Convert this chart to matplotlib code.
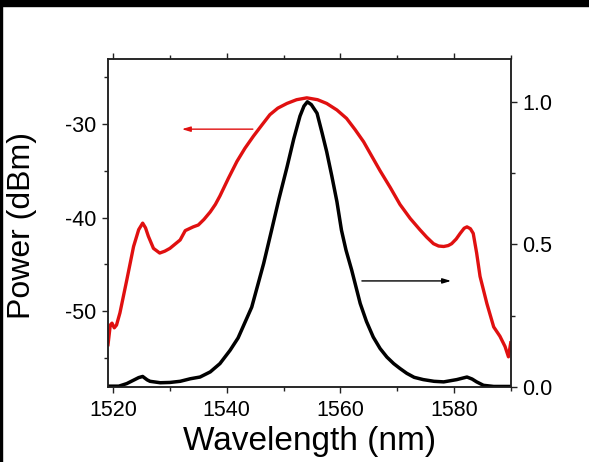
import matplotlib
matplotlib.use("Agg")
import matplotlib.pyplot as plt
from matplotlib.patches import Rectangle
from matplotlib.ticker import MultipleLocator

plt.rcParams['font.family'] = ['Liberation Sans', 'DejaVu Sans']

# Red curve: power spectrum (dBm), left axis
red_wl = [1519.1, 1519.5, 1519.8, 1520.2, 1520.6, 1521.2, 1522.4, 1523.6, 1524.5, 1525.2,
          1525.7, 1526.2, 1527.1, 1528.2, 1529.1, 1530.0, 1531.8, 1532.7, 1534.1, 1535.0,
          1536.0, 1537.1, 1538.0, 1538.8, 1540.3, 1541.8, 1543.2, 1544.7, 1546.2, 1547.6,
          1549.0, 1550.6, 1552.3, 1554.1, 1556.0, 1557.6, 1559.4, 1561.1, 1562.6, 1564.1,
          1565.5, 1567.0, 1568.8, 1570.5, 1572.3, 1574.0, 1575.2, 1576.4, 1577.3, 1578.2,
          1579.0, 1579.6, 1580.4, 1581.1, 1581.8, 1582.3, 1582.9, 1583.4, 1584.0, 1584.6,
          1585.8, 1587.0, 1588.1, 1589.0, 1589.6, 1590.0]
red_dbm = [-53.6, -51.5, -51.3, -51.8, -51.5, -50.2, -46.7, -43.1, -41.3, -40.6,
           -41.1, -42.0, -43.3, -43.8, -43.6, -43.3, -42.4, -41.4, -41.0, -40.8,
           -40.2, -39.4, -38.6, -37.7, -35.8, -34.0, -32.6, -31.3, -30.1, -29.0,
           -28.3, -27.8, -27.4, -27.2, -27.4, -27.8, -28.5, -29.4, -30.6, -31.9,
           -33.4, -35.0, -36.8, -38.6, -40.1, -41.3, -42.1, -42.8, -43.05, -43.1,
           -43.0, -42.8, -42.3, -41.7, -41.15, -41.0, -41.2, -41.7, -43.8, -46.3,
           -49.2, -51.7, -52.7, -53.8, -54.9, -53.4]

# Black curve: normalized power, right axis
blk_wl = [1519.1, 1521.0, 1522.4, 1523.6, 1524.5, 1525.2, 1526.0, 1526.5, 1528.3, 1530.0,
          1531.8, 1533.6, 1535.3, 1537.1, 1538.8, 1540.6, 1542.0, 1544.4, 1545.5, 1546.5,
          1547.9, 1549.2, 1550.6, 1551.8, 1552.9, 1553.6, 1554.2, 1554.9, 1555.9, 1556.8,
          1557.6, 1558.5, 1559.4, 1560.2, 1561.0, 1562.0, 1563.5, 1564.6, 1565.8, 1567.0,
          1568.2, 1569.4, 1570.5, 1571.7, 1573.0, 1574.6, 1576.5, 1578.2, 1580.5, 1582.3,
          1583.2, 1584.0, 1585.2, 1587.0, 1590.0]
blk_norm = [0.003, 0.003, 0.012, 0.024, 0.033, 0.037, 0.025, 0.020, 0.015, 0.016,
            0.020, 0.029, 0.035, 0.053, 0.082, 0.129, 0.172, 0.280, 0.360, 0.433,
            0.550, 0.660, 0.770, 0.870, 0.950, 0.985, 1.000, 0.990, 0.960, 0.890,
            0.825, 0.740, 0.650, 0.550, 0.480, 0.410, 0.293, 0.230, 0.175, 0.135,
            0.105, 0.082, 0.065, 0.048, 0.034, 0.026, 0.020, 0.018, 0.026, 0.035,
            0.028, 0.018, 0.006, 0.002, 0.002]

x_ticks = [1520, 1540, 1560, 1580]
left_ticks = [-30, -40, -50]
right_ticks = [0.0, 0.5, 1.0]

red_arrow = ((1544.6, -30.55), (1532.1, -30.55))
blk_arrow = ((1563.8, 0.372), (1579.5, 0.372))

fig = plt.figure(figsize=(5.89, 4.62), dpi=100)
fig.patches.append(Rectangle((0, 1 - 6 / 462), 1, 6 / 462, transform=fig.transFigure,
                             color='black', zorder=0))
fig.patches.append(Rectangle((0, 0), 2 / 589, 1, transform=fig.transFigure,
                             color='black', zorder=0))

ax = fig.add_axes([0.1829, 0.1623, 0.6842, 0.7093])
ax2 = ax.twinx()

ax.plot(red_wl, red_dbm, color='#e01010', lw=2.4, solid_joinstyle='round')
ax2.plot(blk_wl, blk_norm, color='black', lw=2.5, solid_joinstyle='round')

ax.set_xlim(1519.05, 1590.0)
ax.set_ylim(-58.13, -23.08)
ax2.set_ylim(0.0, 1.149)

ax.set_xticks(x_ticks)
ax.xaxis.set_minor_locator(MultipleLocator(10))
ax.set_yticks(left_ticks)
ax.yaxis.set_minor_locator(MultipleLocator(5))
ax2.set_yticks(right_ticks)
ax2.yaxis.set_minor_locator(MultipleLocator(0.25))

ax.tick_params(axis='x', which='both', direction='out', top=True, labeltop=False,
               labelsize=15.5, pad=5)
ax.tick_params(axis='y', which='both', direction='out', right=False, labelsize=15.5, pad=4)
ax2.tick_params(axis='y', which='both', direction='out', labelsize=15.5, pad=4)
for a in (ax, ax2):
    a.tick_params(which='major', length=4.5, width=1.0, color='#222222')
    a.tick_params(which='minor', length=3.0, width=1.0, color='#222222')
    for s in a.spines.values():
        s.set_linewidth(1.1)
        s.set_color('#222222')

ax.set_yticklabels([f"{t:d}" for t in left_ticks])
ax2.set_yticklabels([f"{t:.1f}" for t in right_ticks])

ax.set_xlabel('Wavelength (nm)', fontsize=24)
ax.xaxis.set_label_coords(0.5, -0.118)
ax.set_ylabel('Power (dBm)', fontsize=23)
ax.yaxis.set_label_coords(-0.175, 0.494)

ax.annotate('', xy=red_arrow[1], xytext=red_arrow[0],
            arrowprops=dict(arrowstyle='-|>,head_length=0.5,head_width=0.15',
                            color='#e01010', lw=1.0, shrinkA=0, shrinkB=0))
ax2.annotate('', xy=blk_arrow[1], xytext=blk_arrow[0],
             arrowprops=dict(arrowstyle='-|>,head_length=0.5,head_width=0.15',
                             color='black', lw=1.0, shrinkA=0, shrinkB=0))

fig.savefig('out.png', dpi=100)
